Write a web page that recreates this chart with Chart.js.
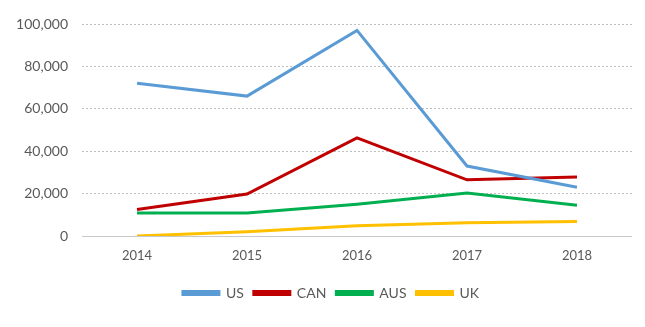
<!DOCTYPE html>
<html lang="en">
<head>
    <meta charset="UTF-8">
    <title>Line chart</title>
    <script src="https://cdn.jsdelivr.net/npm/chart.js"></script>
    <style>
        html, body { margin: 0; padding: 0; background: #fff; }
        .chart-container { position: relative; width: 645px; height: 327px; }
    </style>
</head>
<body>
    <div class="chart-container">
        <canvas id="lineChart"></canvas>
    </div>

    <script>
        // Data
        const years = ['2014', '2015', '2016', '2017', '2018'];
        const usValues = [72000, 66000, 97000, 33000, 23000];
        const canValues = [12500, 19800, 46300, 26500, 27800];
        const ausValues = [10800, 10800, 15000, 20300, 14500];
        const ukValues = [0, 2000, 4800, 6200, 6800];

        const textColor = '#595959';

        function series(label, values, color) {
            return {
                label: label,
                data: values,
                borderColor: color,
                backgroundColor: color,
                borderWidth: 3,
                pointRadius: 0,
                pointHoverRadius: 0,
                tension: 0,
                fill: false
            };
        }

        // nudge the legend a little right, the original sits off-centre
        const legendShift = {
            id: 'legendShift',
            afterLayout(chart) {
                chart.legend.left += 15;
                chart.legend.right += 15;
            }
        };

        const ctx = document.getElementById('lineChart').getContext('2d');
        const lineChart = new Chart(ctx, {
            type: 'line',
            data: {
                labels: years,
                datasets: [
                    series('US', usValues, '#5B9BD5'),
                    series('CAN', canValues, '#C00000'),
                    series('AUS', ausValues, '#00B050'),
                    series('UK', ukValues, '#FFC000')
                ]
            },
            options: {
                responsive: true,
                maintainAspectRatio: false,
                animation: false,
                layout: {
                    padding: { top: 24, right: 13, bottom: 17, left: 0 }
                },
                plugins: {
                    tooltip: { enabled: false },
                    legend: {
                        position: 'bottom',
                        labels: {
                            boxWidth: 36,
                            boxHeight: 3,
                            padding: 10,
                            color: textColor,
                            font: { family: 'Lato', size: 14 }
                        }
                    }
                },
                scales: {
                    x: {
                        offset: true,
                        afterFit: function (scale) { scale.height = 40; },
                        grid: { display: false },
                        border: { display: false },
                        ticks: {
                            color: textColor,
                            padding: 4,
                            font: { family: 'Lato', size: 13 }
                        }
                    },
                    y: {
                        min: 0,
                        max: 100000,
                        afterFit: function (scale) { scale.width = 82; },
                        ticks: {
                            stepSize: 20000,
                            padding: 14,
                            color: textColor,
                            font: { family: 'Lato', size: 14 },
                            callback: value => value.toLocaleString('en-US')
                        },
                        grid: {
                            drawTicks: false,
                            color: c => c.tick && c.tick.value === 0 ? '#c8c8c8' : '#bfbfbf',
                            lineWidth: 1
                        },
                        border: {
                            display: false,
                            dash: c => c.tick && c.tick.value === 0 ? [] : [2, 2]
                        }
                    }
                }
            },
            plugins: [legendShift]
        });
    </script>
</body>
</html>
